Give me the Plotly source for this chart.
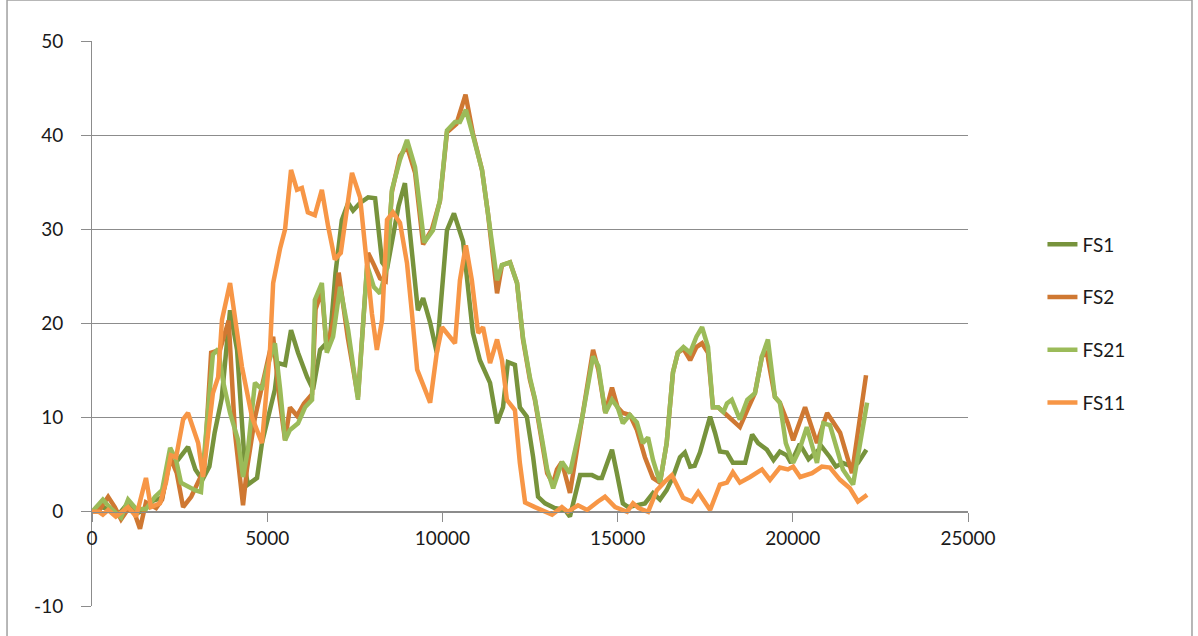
import plotly.graph_objects as go

# valores (x, y) por serie
fs1_x = [0, 250, 500, 750, 1000, 1250, 1500, 1750, 2000, 2200, 2450, 2740, 2950, 3150, 3350, 3500, 3700, 3940,
         4140, 4370, 4450, 4710, 4850, 5020, 5220, 5310, 5510, 5680, 5880, 6140, 6310, 6510, 6790, 6950, 7130,
         7310, 7450, 7650, 7880, 8080, 8280, 8420, 8590, 8750, 8930, 9100, 9300, 9450, 9650, 9840, 10130, 10330,
         10590, 10870, 11070, 11360, 11560, 11730, 11870, 12070, 12210, 12410, 12590, 12730, 12930, 13200, 13500,
         13640, 13780, 13930, 14270, 14440, 14550, 14840, 14980, 15150, 15300, 15550, 15780, 16010, 16210, 16400,
         16580, 16780, 16920, 17070, 17200, 17350, 17500, 17640, 17780, 17920, 18120, 18290, 18410, 18640, 18840,
         19010, 19260, 19450, 19630, 19830, 19950, 20200, 20450, 20830, 21060, 21230, 21430, 21690, 21860, 22100]
fs1_y = [0, 0.5, 0.3, -0.3, 0.8, -0.2, 0.2, 1.2, 1.5, 5.0, 5.5, 6.9, 4.5, 3.4, 4.8, 8.4, 12, 21.4,
         17.2, 4.5, 2.9, 3.6, 7.3, 9.8, 13, 15.8, 15.6, 19.3, 16.9, 14.3, 13, 17.2, 18.3, 25.4, 31,
         32.8, 32, 32.8, 33.4, 33.3, 26.5, 25.8, 29.2, 32.5, 34.9, 28.9, 21.4, 22.7, 20.1, 16.9, 29.9, 31.7,
         28.7, 19, 16.1, 13.7, 9.4, 11.1, 15.9, 15.6, 11.1, 10.1, 5.8, 1.6, 0.9, 0.4, 0.2,
         -0.5, 1.6, 3.9, 3.9, 3.6, 3.6, 6.6, 4.1, 0.9, 0.5, 0.7, 0.9, 2, 1.3, 2.3,
         3.7, 5.8, 6.3, 4.8, 4.9, 6.3, 8.4, 10.1, 8.4, 6.4, 6.3, 5.2, 5.2, 5.2, 8.2,
         7.3, 6.6, 5.5, 6.4, 6.0, 5.2, 7.2, 5.6, 6.9, 5.8, 4.8, 5.2, 4.8, 5.2, 6.6]

fs2_x = [0, 230, 460, 650, 830, 1030, 1200, 1370, 1540, 1830, 2000, 2230, 2420, 2600, 2830, 3030, 3200, 3400,
         3650, 3900, 4080, 4310, 4420, 4650, 4850, 5000, 5170, 5350, 5510, 5650, 5850, 6050, 6280, 6380, 6560,
         6700, 6900, 7040, 7300, 7590, 7880, 8050, 8220, 8380, 8560, 8790, 8990, 9220, 9450, 9700, 9930, 10130,
         10400, 10660, 10870, 11130, 11300, 11560, 11700, 11930, 12130, 12300, 12500, 12640, 12840, 12990, 13160,
         13270, 13410, 13640, 13980, 14300, 14450, 14650, 14840, 15000, 15150, 15350, 15550, 15780, 16010, 16210,
         16400, 16580, 16720, 16880, 17070, 17250, 17410, 17580, 17720, 17870, 18020, 18260, 18490, 18700, 18920,
         19120, 19260, 19490, 19630, 19860, 20010, 20350, 20690, 20980, 21350, 21690, 22090]
fs2_y = [0, 0.3, 1.6, 0.5, -0.8, 0.3, 0.0, -1.8, 1.0, 0.4, 1.3, 5.8, 4.1, 0.5, 1.6, 3.1, 4.5, 16.9,
         17.2, 20.3, 8.4, 0.7, 4.5, 10, 13.5, 16, 18.6, 12, 7.6, 11.1, 10.2, 11.5, 12.5, 21.5, 23.5,
         17.2, 20.5, 25.4, 18.5, 12.2, 27.5, 26.2, 24.8, 24.5, 34, 37.8, 38.8, 36, 28.4, 30, 33, 40.3,
         41.2, 44.3, 40.2, 36.3, 31.7, 23.2, 26.2, 26.5, 24.3, 18.3, 14, 11.9, 7.6, 4.1, 3,
         4.5, 5.3, 2, 9.8, 17.2, 15.1, 10.5, 13.2, 11.1, 10.5, 10.3, 8.7, 5.8, 3.6, 3.1,
         7.3, 14.8, 16.9, 17.3, 16.1, 17.5, 17.9, 16.9, 11.1, 11.1, 10.6, 9.8, 9.0, 10.8, 12.6,
         16.5, 16.9, 12.2, 11.6, 9.4, 7.6, 11.1, 7.3, 10.5, 8.4, 4.1, 14.5]

fs21_x = [0, 310, 500, 830, 1030, 1260, 1540, 1800, 2000, 2230, 2400, 2540, 2740, 2940, 3110, 3260, 3450, 3600,
          3750, 3940, 4170, 4310, 4450, 4650, 4850, 5000, 5220, 5370, 5510, 5650, 5880, 6080, 6280, 6360, 6560,
          6700, 6880, 7080, 7310, 7590, 7850, 8040, 8220, 8420, 8560, 8790, 8990, 9220, 9480, 9730, 9930, 10130,
          10360, 10500, 10670, 10870, 11130, 11300, 11560, 11700, 11930, 12130, 12300, 12500, 12640, 12840, 12990,
          13160, 13410, 13640, 13980, 14300, 14450, 14650, 14840, 15000, 15150, 15350, 15550, 15720, 15870, 16010,
          16210, 16400, 16580, 16720, 16880, 17070, 17250, 17410, 17580, 17720, 17870, 18020, 18120, 18260, 18490,
          18700, 18920, 19120, 19290, 19490, 19630, 19800, 20010, 20180, 20400, 20690, 20870, 21060, 21250, 21430,
          21720, 22120]
fs21_y = [0, 1.3, 0.5, -0.6, 1.3, 0.3, 0.3, 1.6, 2.3, 6.8, 5.5, 3.1, 2.7, 2.3, 2.1, 8, 16.7, 17.3,
          13.7, 10.5, 7.6, 3.7, 6.6, 13.7, 13, 15.4, 17.9, 13, 7.6, 8.7, 9.4, 11.1, 11.9, 22.5, 24.3,
          16.9, 18.6, 23.9, 19.3, 11.9, 26.2, 23.9, 23.2, 26, 34.2, 37.4, 39.5, 36.6, 28.6, 29.9, 33.1, 40.5,
          41.4, 41.4, 42.7, 40, 36.3, 31.7, 24.6, 26.2, 26.5, 24.3, 18.5, 14.2, 12, 7.8, 4.5,
          2.5, 5.3, 4.1, 9.8, 16.5, 15.5, 10.5, 11.9, 11.1, 9.4, 10.3, 9.5, 7.3, 7.9, 5.5,
          3.1, 7.3, 14.8, 16.9, 17.5, 16.9, 18.6, 19.6, 17.5, 11.1, 11.1, 10.6, 11.5, 11.9, 9.8,
          11.9, 12.6, 16.5, 18.3, 12.2, 11.6, 7.3, 5.2, 6.5, 9, 5.2, 9.4, 9.2, 6.9, 4.5,
          2.9, 11.6]

fs11_x = [0, 200, 310, 460, 680, 1030, 1260, 1540, 1680, 1940, 2110, 2250, 2400, 2600, 2740, 3030, 3170, 3310,
          3450, 3600, 3710, 3940, 4280, 4570, 4850, 5080, 5170, 5370, 5510, 5680, 5850, 5990, 6160, 6360, 6560,
          6740, 6930, 7100, 7420, 7650, 7850, 7990, 8130, 8280, 8420, 8590, 8790, 8990, 9130, 9280, 9650, 9840,
          9990, 10360, 10500, 10670, 10840, 11020, 11160, 11360, 11560, 11700, 11840, 12070, 12210, 12360, 12640,
          13130, 13410, 13580, 13870, 14130, 14440, 14640, 14930, 15270, 15440, 15600, 15870, 16120, 16350, 16550,
          16870, 17120, 17300, 17640, 17920, 18120, 18290, 18490, 18780, 19120, 19350, 19630, 19860, 20010, 20210,
          20550, 20830, 21060, 21350, 21630, 21860, 22120]
fs11_y = [0, 0, -0.3, 0.2, -0.5, 0.5, -0.5, 3.6, 0.5, 0.9, 3.1, 6, 5.8, 9.8, 10.5, 7.3, 3.7, 8,
          12.6, 14.3, 20.4, 24.3, 15.4, 10, 7.3, 17.2, 24.3, 28, 30, 36.3, 34.2, 34.4, 31.8, 31.5, 34.2,
          30.3, 26.8, 27.5, 36, 33.4, 26, 21, 17.2, 20.4, 31, 31.8, 30.7, 26.4, 21.1, 15.1, 11.6, 16.9,
          19.6, 17.9, 24.6, 28.3, 24.6, 19, 19.6, 15.8, 18.3, 16.1, 11.9, 10.8, 5.2, 1, 0.5,
          -0.3, 0.5, 0, 0.7, 0.2, 1.1, 1.6, 0.5, 0, 0.9, 0.4, 0, 2.3, 3.2, 3.9,
          1.5, 1.1, 2.1, 0.2, 2.9, 3.1, 4.2, 3.1, 3.7, 4.5, 3.4, 4.7, 4.5, 4.8, 3.7,
          4.1, 4.8, 4.7, 3.4, 2.5, 1.1, 1.8]

# marcas de los ejes
x_ticks = [0, 5000, 10000, 15000, 20000, 25000]
x_labels = ["0", "5000", "10000", "15000", "20000", "25000"]
y_ticks = [-10, 0, 10, 20, 30, 40, 50]
y_labels = ["-10", "0", "10", "20", "30", "40", "50"]

series = [("FS1", fs1_x, fs1_y, "#77933C"),
          ("FS2", fs2_x, fs2_y, "#CF7832"),
          ("FS21", fs21_x, fs21_y, "#9BBB59"),
          ("FS11", fs11_x, fs11_y, "#F79646")]

fig = go.Figure()
for nombre, xs, ys, color in series:
    fig.add_trace(go.Scatter(x=xs, y=ys, mode="lines", name=nombre, legendgroup=nombre,
                             line=dict(color=color, width=4.5, shape="linear"),
                             hoverinfo="x+y+name"))

gris = "#8c8c8c"
fuente = dict(family="Lato, Liberation Sans, sans-serif", size=19, color="#1a1a1a")

# eje x cruzando en y=0
pos_cero = (0 - (-10)) / 60

fig.update_layout(
    width=1198, height=636,
    margin=dict(l=92, r=230, t=41, b=30),
    plot_bgcolor="white", paper_bgcolor="white",
    font=fuente,
    showlegend=True,
    legend=dict(x=1.085, y=0.5, xanchor="left", yanchor="middle",
                font=fuente, tracegroupgap=25, bgcolor="rgba(0,0,0,0)"),
    xaxis=dict(range=[0, 25000], tickvals=x_ticks, ticktext=x_labels, showgrid=False, zeroline=False,
               showline=True, linecolor=gris, linewidth=1,
               ticks="outside", ticklen=9, tickcolor=gris,
               anchor="free", position=pos_cero, tickfont=fuente),
    yaxis=dict(range=[-10, 50], tickvals=y_ticks, ticktext=y_labels, showgrid=True, gridcolor=gris, gridwidth=1,
               zeroline=False, showline=True, linecolor=gris, linewidth=1,
               ticks="outside", ticklen=10, tickcolor=gris, ticklabelstandoff=14,
               tickfont=fuente),
    shapes=[dict(type="rect", xref="paper", yref="paper",
                 x0=-0.097, x1=1.2557, y0=-0.07, y1=1.0726,
                 line=dict(color="#a0a0a0", width=1.5), fillcolor="rgba(0,0,0,0)", layer="below")],
)

fig.write_html("out.html", config={"displayModeBar": False},
               post_script="document.body.style.margin='0';")
